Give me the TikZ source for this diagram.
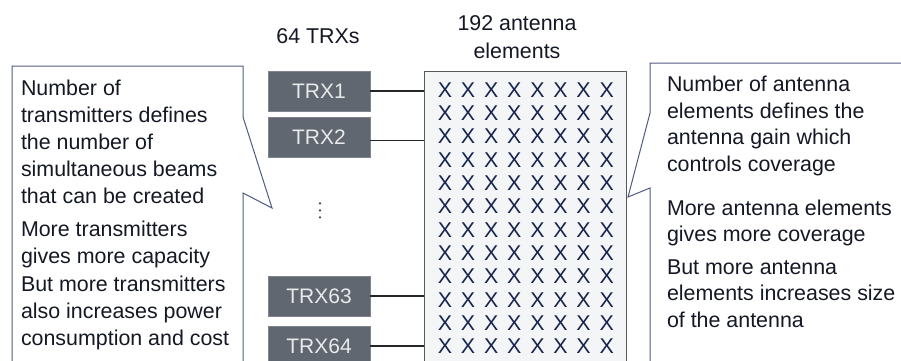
\documentclass[tikz,border=0pt]{standalone}
\usepackage{fontspec}
\setmainfont{Liberation Sans}
\definecolor{txt}{RGB}{20,24,36}
\definecolor{xcol}{RGB}{24,36,78}
\definecolor{callout}{RGB}{80,90,128}
\definecolor{trxfill}{RGB}{96,103,112}
\definecolor{trxtext}{RGB}{232,233,235}
\definecolor{antfill}{RGB}{244,245,247}
\definecolor{antdraw}{RGB}{90,90,90}
\begin{document}
\begin{tikzpicture}[x=1pt,y=-1pt,
  every node/.style={inner sep=0pt,outer sep=0pt},
  txtline/.style={anchor=base west,text=txt,font=\fontsize{21.4}{25}\selectfont},
  label/.style={anchor=base,text=txt,font=\fontsize{21.4}{25}\selectfont},
  trxbox/.style={fill=trxfill,draw=trxfill!80!white,line width=0.6pt,minimum width=102pt,minimum height=40pt,text=trxtext,font=\fontsize{21}{25}\selectfont},
  xmark/.style={text=xcol,font=\fontsize{21.4}{25}\selectfont},
  conn/.style={draw=black!85,line width=1.3pt},
  calloutline/.style={draw=callout,line width=1pt,line join=miter}]
\useasboundingbox (0,0) rectangle (901,360);
% callouts
\draw[calloutline] (12,364) -- (12,66) -- (243,66) -- (243,117) -- (272,208) -- (243,193) -- (243,364);
\draw[calloutline] (650,364) -- (650,188) -- (628,197) -- (650,113) -- (650,63) -- (905,63);
% antenna panel
\node[draw=antdraw,fill=antfill,line width=1pt,minimum width=202pt,minimum height=292pt,anchor=north west] (ant) at (424,71) {};
\foreach \c in {0,...,7}{
  \foreach \r in {0,...,11}{
    \node[xmark] (x\c-\r) at ({445+23.1*\c},{90+23.3*\r}) {X};
  }
}
% TRX boxes
\node[trxbox] (trx1) at (319,91) {TRX1};
\node[trxbox] (trx2) at (319,137.5) {TRX2};
\node[trxbox] (trx63) at (319,296) {TRX63};
\node[trxbox] (trx64) at (319,346) {TRX64};
\draw[conn] (trx1.east) -- (trx1.east -| ant.west);
\draw[conn] ([yshift=-3pt]trx2.east) -- ([yshift=-3pt]trx2.east -| ant.west);
\draw[conn] (trx63.east) -- (trx63.east -| ant.west);
\draw[conn] (trx64.east) -- (trx64.east -| ant.west);
% vdots
\foreach \y in {203.3,210.3,217.3}{\fill[black!75] (320,\y) circle (1.3pt);}
% top labels
\node[label] (ltrx) at (318,43.3) {64 TRXs};
\node[label] (lant1) at (517,30) {192 antenna};
\node[label] (lant2) at (517,58.3) {elements};
% left callout text
\node[txtline] (l1) at (21,95) {Number of};
\node[txtline] (l2) at (21,122) {transmitters defines};
\node[txtline] (l3) at (21,149) {the number of};
\node[txtline] (l4) at (21,176) {simultaneous beams};
\node[txtline] (l5) at (21,203) {that can be created};
\node[txtline] (l6) at (21,236.5) {More transmitters};
\node[txtline] (l7) at (21,263.5) {gives more capacity};
\node[txtline] (l8) at (21,291.5) {But more transmitters};
\node[txtline] (l9) at (21,318.5) {also increases power};
\node[txtline] (l10) at (21,345.5) {consumption and cost};
% right callout text
\node[txtline] (r1) at (667,91.5) {Number of antenna};
\node[txtline] (r2) at (667,118) {elements defines the};
\node[txtline] (r3) at (667,144.5) {antenna gain which};
\node[txtline] (r4) at (667,171) {controls coverage};
\node[txtline] (r5) at (667,215) {More antenna elements};
\node[txtline] (r6) at (667,241.5) {gives more coverage};
\node[txtline] (r7) at (667,274) {But more antenna};
\node[txtline] (r8) at (667,300.5) {elements increases size};
\node[txtline] (r9) at (667,327) {of the antenna};
\end{tikzpicture}
\end{document}
